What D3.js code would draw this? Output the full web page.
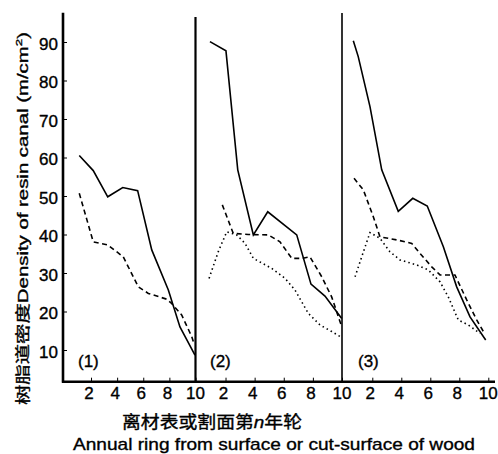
<!DOCTYPE html>
<html><head><meta charset="utf-8">
<script src="https://cdn.jsdelivr.net/npm/d3@7"></script>
<style>
html,body{margin:0;padding:0;background:#fff;}
svg{display:block;}
text{font-family:"Liberation Sans",Arial,sans-serif;fill:#000;stroke:#000;stroke-width:0.35px;}
.cjk{font-family:"Noto Sans CJK SC","Liberation Sans",sans-serif;}
</style></head>
<body>
<svg id="chart" width="498" height="454"></svg>
<script>
// ---- data ----
const xTicks = [2, 4, 6, 8, 10];
const yTicks = [10, 20, 30, 40, 50, 60, 70, 80, 90];
const panelLabels = ["(1)", "(2)", "(3)"];

// Panel 1
const p1SolidX  = [1.10, 2.17, 3.28, 4.43, 5.57, 6.65, 7.92, 8.81, 9.96];
const p1SolidY  = [60.5, 56.6, 49.8, 52.2, 51.4, 36.0, 25.6, 16.0, 8.7];
const p1DashX   = [1.10, 2.17, 3.28, 4.47, 5.62, 6.39, 7.79, 8.17, 8.94, 9.71, 9.90];
const p1DashY   = [50.7, 38.1, 37.3, 34.2, 26.4, 24.7, 23.2, 22.1, 19.1, 13.5, 11.5];
// Panel 2
const p2SolidX  = [0.93, 2.03, 2.84, 3.91, 4.90, 6.89, 7.87, 8.83, 9.98];
const p2SolidY  = [90.1, 87.7, 56.8, 39.9, 45.9, 39.9, 27.1, 24.0, 18.2];
const p2DashX   = [1.78, 2.53, 3.56, 4.94, 5.74, 6.55, 7.23, 7.80, 8.61, 9.29, 9.98];
const p2DashY   = [47.7, 40.3, 40.0, 39.9, 38.1, 33.8, 33.8, 34.2, 29.0, 23.8, 16.1];
const p2DotX    = [0.87, 1.50, 2.08, 2.77, 3.34, 3.91, 5.17, 6.09, 6.77, 7.69, 8.49, 9.29, 9.86];
const p2DotY    = [28.6, 35.5, 40.7, 39.9, 37.7, 33.8, 31.2, 28.6, 25.6, 19.5, 16.5, 14.8, 13.5];
// Panel 3
const p3SolidX  = [0.69, 1.03, 1.84, 2.65, 3.79, 4.79, 5.79, 6.90, 7.82, 8.74, 9.82];
const p3SolidY  = [90.3, 86.2, 73.2, 56.8, 46.0, 49.4, 47.4, 36.8, 26.4, 18.6, 12.6];
const p3DashX   = [0.74, 1.38, 2.07, 2.53, 3.68, 4.72, 5.29, 6.10, 6.67, 7.70, 8.51, 9.20, 9.66];
const p3DashY   = [54.6, 51.6, 44.6, 39.4, 38.6, 37.7, 35.1, 31.6, 29.5, 29.5, 23.0, 17.8, 14.8];
const p3DotX    = [0.81, 1.27, 1.84, 2.53, 3.22, 3.91, 5.06, 5.86, 6.67, 7.24, 7.93, 8.62, 9.43];
const p3DotY    = [29.0, 34.2, 40.5, 39.0, 35.5, 33.4, 32.1, 30.8, 27.7, 23.8, 17.8, 16.5, 14.3];

const xTitleCn = "离材表或割面第";
const xTitleN = "n";
const xTitleCn2 = "年轮";
const xTitleEn = "Annual ring from surface or cut-surface of wood";

// ---- layout ----
const svg = d3.select("#chart");
const axisX = 63, axisBottom = 381.7, axisTop = 12.7, axisRight = 495;

const y = d3.scaleLinear().domain([10, 90]).range([350, 42]);

const panels = [
  {x: d3.scaleLinear().domain([0, 10]).range([64.9, 195.5]),
   series: [{xs: p1SolidX, ys: p1SolidY, dash: null},
            {xs: p1DashX, ys: p1DashY, dash: "5,3.5"}],
   label: panelLabels[0], lx: 78, dividerTop: 17, dividerW: 2.2},
  {x: d3.scaleLinear().domain([0, 10]).range([196.4, 342.0]),
   series: [{xs: p2SolidX, ys: p2SolidY, dash: null},
            {xs: p2DashX, ys: p2DashY, dash: "5,3.5"},
            {xs: p2DotX, ys: p2DotY, dash: "1.5,3.1"}],
   label: panelLabels[1], lx: 210, dividerTop: 13, dividerW: 1.6},
  {x: d3.scaleLinear().domain([0, 10]).range([343.3, 488.3]),
   series: [{xs: p3SolidX, ys: p3SolidY, dash: null},
            {xs: p3DashX, ys: p3DashY, dash: "5,3.5"},
            {xs: p3DotX, ys: p3DotY, dash: "1.5,3.1"}],
   label: panelLabels[2], lx: 358, dividerTop: null}
];

// Y axis
const yAxis = d3.axisRight(y).tickValues(yTicks).tickSize(4).tickFormat("");
const gy = svg.append("g").attr("transform", `translate(${axisX},0)`).call(yAxis);
gy.select(".domain").remove();
gy.selectAll(".tick line").attr("stroke", "#000").attr("stroke-width", 1);
svg.append("line").attr("x1", axisX).attr("x2", axisX)
  .attr("y1", axisTop).attr("y2", axisBottom + 1)
  .attr("stroke", "#000").attr("stroke-width", 2.6);
svg.append("g").selectAll("text").data(yTicks).join("text")
  .attr("x", 58).attr("y", d => y(d) + 7.5)
  .attr("text-anchor", "end").attr("font-size", 17)
  .text(d => d);

// X axis baseline
svg.append("line").attr("x1", axisX - 1).attr("x2", axisRight)
  .attr("y1", axisBottom).attr("y2", axisBottom)
  .attr("stroke", "#000").attr("stroke-width", 2.4);

panels.forEach(p => {
  const ax = d3.axisTop(p.x).tickValues(xTicks).tickSize(4).tickFormat("");
  const g = svg.append("g").attr("transform", `translate(0,${axisBottom})`).call(ax);
  g.select(".domain").remove();
  g.selectAll(".tick line").attr("stroke", "#000").attr("stroke-width", 1);
  svg.append("g").selectAll("text").data(xTicks).join("text")
    .attr("x", d => p.x(d) - (d === 10 ? 0 : 2)).attr("y", 399)
    .attr("text-anchor", "middle").attr("font-size", 17)
    .text(d => d);
  if (p.dividerTop !== null) {
    svg.append("line").attr("x1", p.x(10)).attr("x2", p.x(10))
      .attr("y1", p.dividerTop).attr("y2", axisBottom)
      .attr("stroke", "#000").attr("stroke-width", p.dividerW);
  }
  p.series.forEach(s => {
    const pts = s.xs.map((v, i) => [v, s.ys[i]]);
    const line = d3.line().x(d => p.x(d[0])).y(d => y(d[1]));
    svg.append("path").attr("d", line(pts))
      .attr("fill", "none").attr("stroke", "#000")
      .attr("stroke-width", 1.6)
      .attr("stroke-dasharray", s.dash)
      .attr("stroke-linejoin", "miter");
  });
  svg.append("text").attr("x", p.lx).attr("y", 367)
    .attr("font-size", 17).text(p.label);
});

// Y title
const yt = svg.append("text")
  .attr("transform", `translate(28,${(32 + 405) / 2}) rotate(-90)`)
  .attr("text-anchor", "middle").attr("font-size", 14.5)
  .attr("class", "cjk")
  .attr("textLength", 373).attr("lengthAdjust", "spacingAndGlyphs");
yt.append("tspan").text("树脂道密度");
yt.append("tspan").style("font-family", '"Liberation Sans",Arial,sans-serif')
  .text("Density of resin canal (m/cm");
yt.append("tspan").style("font-family", '"Liberation Sans",Arial,sans-serif')
  .attr("font-size", 9.5).attr("dy", -6).text("2");
yt.append("tspan").style("font-family", '"Liberation Sans",Arial,sans-serif')
  .attr("dy", 6).text(")");

// X titles
const xt = svg.append("text").attr("class", "cjk")
  .attr("x", 212).attr("y", 428).attr("text-anchor", "middle")
  .attr("font-size", 16.5)
  .attr("textLength", 180).attr("lengthAdjust", "spacingAndGlyphs");
xt.append("tspan").text(xTitleCn);
xt.append("tspan").style("font-family", '"Liberation Sans",Arial,sans-serif')
  .style("font-style", "italic").text(xTitleN);
xt.append("tspan").text(xTitleCn2);

svg.append("text").attr("x", 274).attr("y", 450).attr("text-anchor", "middle")
  .attr("font-size", 17)
  .attr("textLength", 402).attr("lengthAdjust", "spacingAndGlyphs")
  .text(xTitleEn);
</script>
</body></html>
